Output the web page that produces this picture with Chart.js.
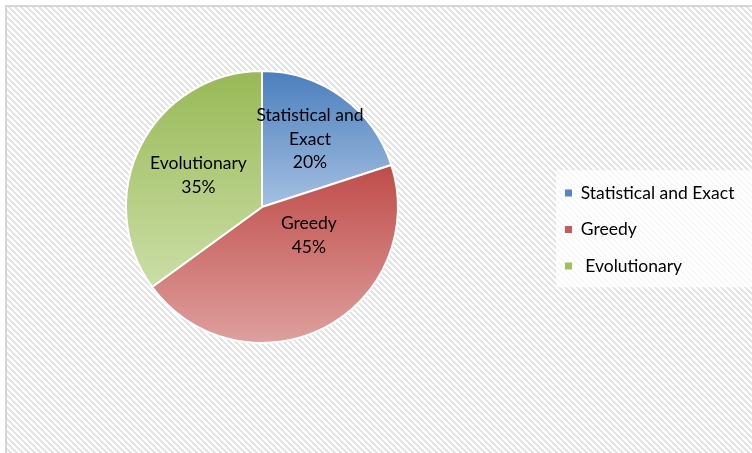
<!DOCTYPE html>
<html>
<head>
<meta charset="utf-8">
<script src="https://cdn.jsdelivr.net/npm/chart.js@4/dist/chart.umd.min.js"></script>
<style>
  html, body { margin: 0; padding: 0; background: #fff; }
  body { width: 752px; height: 453px; overflow: hidden; position: relative; }
  #frame {
    position: absolute; left: 5px; top: 5px; width: 800px; height: 500px;
    border-top: 2px solid #d6d6d6; border-left: 2px solid #d6d6d6;
    background: repeating-linear-gradient(45deg, #ffffff 0px, #ffffff 2.1px, #e4e4e4 2.1px, #e4e4e4 4.24px);
  }
  #wrap { position: absolute; left: -22px; top: 0; width: 774px; height: 453px; }
</style>
</head>
<body>
<div id="frame"></div>
<div id="wrap"><canvas id="pieChart" width="774" height="453"></canvas></div>
<script>
const categories = ["Statistical and Exact", "Greedy", "Evolutionary"];
const shares = [20, 45, 35];

const topColors = ["#4a7ebd", "#bf4c49", "#98b955"];
const bottomColors = ["#a5c0e2", "#dfa09e", "#cbdea7"];
const legendColors = ["#5585c2", "#c85a57", "#9fbf60"];
const fontFamily = "Lato, 'Open Sans', sans-serif";
const fontSize = 17.5;

// vertical gradient over each slice's own bounding box
function sliceGradient(context) {
  const chart = context.chart;
  const area = chart.chartArea;
  const i = context.dataIndex;
  if (!area) return topColors[i];
  const cx = (area.left + area.right) / 2;
  const cy = (area.top + area.bottom) / 2;
  const r = Math.min(area.width, area.height) / 2;
  const total = shares.reduce((a, b) => a + b, 0);
  let before = 0;
  for (let k = 0; k < i; k++) before += shares[k];
  const a0 = -Math.PI / 2 + 2 * Math.PI * before / total;
  const a1 = a0 + 2 * Math.PI * shares[i] / total;
  let ymin = Math.min(cy, cy + r * Math.sin(a0), cy + r * Math.sin(a1));
  let ymax = Math.max(cy, cy + r * Math.sin(a0), cy + r * Math.sin(a1));
  for (let k = -1; k <= 2; k++) {
    const up = -Math.PI / 2 + 2 * Math.PI * k;
    const down = Math.PI / 2 + 2 * Math.PI * k;
    if (up >= a0 && up <= a1) ymin = cy - r;
    if (down >= a0 && down <= a1) ymax = cy + r;
  }
  const g = chart.ctx.createLinearGradient(0, ymin, 0, ymax);
  g.addColorStop(0, topColors[i]);
  g.addColorStop(1, bottomColors[i]);
  return g;
}

function wrapWords(ctx, text, maxW) {
  const words = text.split(" ");
  const lines = [];
  let line = "";
  words.forEach(w => {
    const test = line ? line + " " + w : w;
    if (ctx.measureText(test).width > maxW && line) {
      lines.push(line);
      line = w;
    } else {
      line = test;
    }
  });
  lines.push(line);
  return lines;
}

// small nudges so labels sit where the original put them
const labelNudge = [[8, -13], [16, -32], [-3, -1]];

const sliceLabels = {
  id: "sliceLabels",
  afterDatasetsDraw(chart) {
    const ctx = chart.ctx;
    const meta = chart.getDatasetMeta(0);
    ctx.save();
    ctx.font = fontSize + "px " + fontFamily;
    ctx.fillStyle = "#000";
    ctx.textAlign = "center";
    ctx.textBaseline = "middle";
    meta.data.forEach((arc, i) => {
      const p = arc.tooltipPosition();
      const lines = wrapWords(ctx, categories[i], 125);
      lines.push(shares[i] + "%");
      const lh = 23.5;
      const x = p.x + labelNudge[i][0];
      const y0 = p.y + labelNudge[i][1] - (lines.length - 1) * lh / 2;
      lines.forEach((t, j) => ctx.fillText(t, x, y0 + j * lh));
    });
    ctx.restore();
  }
};

const legendPanel = {
  id: "legendPanel",
  beforeDraw(chart) {
    const lg = chart.legend;
    if (!lg || !lg.legendHitBoxes || !lg.legendHitBoxes.length) return;
    const hb = lg.legendHitBoxes;
    const ctx = chart.ctx;
    ctx.save();
    ctx.fillStyle = "rgba(255,255,255,0.72)";
    const y0 = hb[0].top - 14;
    const y1 = hb[hb.length - 1].top + 30;
    ctx.fillRect(lg.left + 10, y0, chart.width - lg.left, y1 - y0);
    ctx.restore();
  }
};

const legendLeft = 568; // canvas x where the legend box should start

const chart = new Chart(document.getElementById("pieChart"), {
  type: "pie",
  data: {
    labels: categories,
    datasets: [{
      data: shares,
      backgroundColor: sliceGradient,
      borderColor: "#ffffff",
      borderWidth: 2
    }]
  },
  options: {
    responsive: false,
    animation: false,
    devicePixelRatio: 1,
    layout: { padding: { left: 0, right: 0, top: 70, bottom: 109 } },
    plugins: {
      tooltip: { enabled: false },
      legend: {
        position: "right",
        align: "center",
        title: { display: true, text: " ", font: { size: 12 }, padding: { top: 30.6, bottom: 0 } },
        labels: {
          boxWidth: 7,
          boxHeight: 7,
          padding: 19,
          color: "#000",
          font: { size: fontSize, family: fontFamily },
          generateLabels(chart) {
            const items = Chart.overrides.pie.plugins.legend.labels.generateLabels(chart);
            return items.map((it, i) => Object.assign(it, {
              text: i === 2 ? " " + it.text : it.text,
              fillStyle: legendColors[i],
              strokeStyle: legendColors[i],
              lineWidth: 0
            }));
          }
        }
      }
    }
  },
  plugins: [legendPanel, sliceLabels]
});

// push the legend to the wanted spot with right padding, then relayout
const shift = chart.legend.left - legendLeft;
if (shift > 0) {
  chart.options.layout.padding.right = shift;
  chart.update();
}
</script>
</body>
</html>
